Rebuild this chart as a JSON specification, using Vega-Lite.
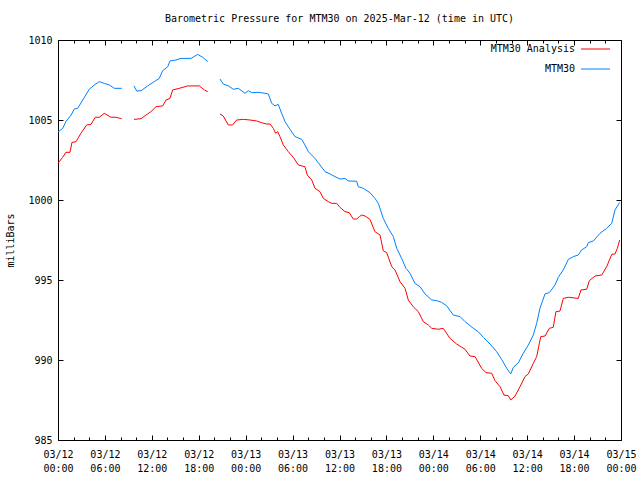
{
  "$schema": "https://vega.github.io/schema/vega-lite/v6.json",
  "width": 563,
  "height": 400,
  "autosize": "none",
  "padding": {"left": 58, "top": 40, "right": 19, "bottom": 40},
  "background": "white",
  "title": {"text": "Barometric Pressure for MTM30 on 2025-Mar-12 (time in UTC)", "font": "DejaVu Sans Mono", "fontSize": 10, "fontWeight": "normal", "color": "black", "offset": 10},
  "config": {
    "view": {"stroke": "black", "strokeWidth": 1},
    "axis": {"labelFont": "DejaVu Sans Mono", "labelFontSize": 10, "labelColor": "black", "titleFont": "DejaVu Sans Mono", "titleFontSize": 10, "titleFontWeight": "normal", "titleColor": "black", "tickColor": "black", "grid": false, "domain": false}
  },
  "data": {"values": [
      {"s": "MTM30 Analysis", "t": "2025-03-12T00:00:00Z", "g": 1, "p": 1002.3},
      {"s": "MTM30 Analysis", "t": "2025-03-12T00:36:00Z", "g": 1, "p": 1002.67},
      {"s": "MTM30 Analysis", "t": "2025-03-12T01:01:00Z", "g": 1, "p": 1002.98},
      {"s": "MTM30 Analysis", "t": "2025-03-12T01:32:00Z", "g": 1, "p": 1002.98},
      {"s": "MTM30 Analysis", "t": "2025-03-12T01:47:00Z", "g": 1, "p": 1003.6},
      {"s": "MTM30 Analysis", "t": "2025-03-12T02:18:00Z", "g": 1, "p": 1003.64},
      {"s": "MTM30 Analysis", "t": "2025-03-12T02:56:00Z", "g": 1, "p": 1004.17},
      {"s": "MTM30 Analysis", "t": "2025-03-12T03:40:00Z", "g": 1, "p": 1004.69},
      {"s": "MTM30 Analysis", "t": "2025-03-12T04:13:00Z", "g": 1, "p": 1004.73},
      {"s": "MTM30 Analysis", "t": "2025-03-12T04:46:00Z", "g": 1, "p": 1005.17},
      {"s": "MTM30 Analysis", "t": "2025-03-12T05:17:00Z", "g": 1, "p": 1005.17},
      {"s": "MTM30 Analysis", "t": "2025-03-12T05:55:00Z", "g": 1, "p": 1005.42},
      {"s": "MTM30 Analysis", "t": "2025-03-12T06:47:00Z", "g": 1, "p": 1005.17},
      {"s": "MTM30 Analysis", "t": "2025-03-12T07:25:00Z", "g": 1, "p": 1005.17},
      {"s": "MTM30 Analysis", "t": "2025-03-12T08:09:00Z", "g": 1, "p": 1005.08},
      {"s": "MTM30 Analysis", "t": "2025-03-12T09:43:00Z", "g": 2, "p": 1005.04},
      {"s": "MTM30 Analysis", "t": "2025-03-12T10:37:00Z", "g": 2, "p": 1005.08},
      {"s": "MTM30 Analysis", "t": "2025-03-12T11:15:00Z", "g": 2, "p": 1005.31},
      {"s": "MTM30 Analysis", "t": "2025-03-12T11:53:00Z", "g": 2, "p": 1005.52},
      {"s": "MTM30 Analysis", "t": "2025-03-12T12:32:00Z", "g": 2, "p": 1005.83},
      {"s": "MTM30 Analysis", "t": "2025-03-12T13:23:00Z", "g": 2, "p": 1005.88},
      {"s": "MTM30 Analysis", "t": "2025-03-12T13:49:00Z", "g": 2, "p": 1006.25},
      {"s": "MTM30 Analysis", "t": "2025-03-12T14:19:00Z", "g": 2, "p": 1006.35},
      {"s": "MTM30 Analysis", "t": "2025-03-12T14:40:00Z", "g": 2, "p": 1006.88},
      {"s": "MTM30 Analysis", "t": "2025-03-12T15:31:00Z", "g": 2, "p": 1006.98},
      {"s": "MTM30 Analysis", "t": "2025-03-12T16:35:00Z", "g": 2, "p": 1007.13},
      {"s": "MTM30 Analysis", "t": "2025-03-12T18:04:00Z", "g": 2, "p": 1007.13},
      {"s": "MTM30 Analysis", "t": "2025-03-12T18:43:00Z", "g": 2, "p": 1006.88},
      {"s": "MTM30 Analysis", "t": "2025-03-12T19:09:00Z", "g": 2, "p": 1006.77},
      {"s": "MTM30 Analysis", "t": "2025-03-12T20:43:00Z", "g": 3, "p": 1005.38},
      {"s": "MTM30 Analysis", "t": "2025-03-12T21:08:00Z", "g": 3, "p": 1005.25},
      {"s": "MTM30 Analysis", "t": "2025-03-12T21:47:00Z", "g": 3, "p": 1004.69},
      {"s": "MTM30 Analysis", "t": "2025-03-12T22:20:00Z", "g": 3, "p": 1004.69},
      {"s": "MTM30 Analysis", "t": "2025-03-12T22:51:00Z", "g": 3, "p": 1005.0},
      {"s": "MTM30 Analysis", "t": "2025-03-12T23:42:00Z", "g": 3, "p": 1005.04},
      {"s": "MTM30 Analysis", "t": "2025-03-13T00:33:00Z", "g": 3, "p": 1005.0},
      {"s": "MTM30 Analysis", "t": "2025-03-13T01:25:00Z", "g": 3, "p": 1004.94},
      {"s": "MTM30 Analysis", "t": "2025-03-13T02:03:00Z", "g": 3, "p": 1004.83},
      {"s": "MTM30 Analysis", "t": "2025-03-13T02:41:00Z", "g": 3, "p": 1004.75},
      {"s": "MTM30 Analysis", "t": "2025-03-13T03:07:00Z", "g": 3, "p": 1004.75},
      {"s": "MTM30 Analysis", "t": "2025-03-13T03:32:00Z", "g": 3, "p": 1004.48},
      {"s": "MTM30 Analysis", "t": "2025-03-13T03:50:00Z", "g": 3, "p": 1004.17},
      {"s": "MTM30 Analysis", "t": "2025-03-13T04:06:00Z", "g": 3, "p": 1004.27},
      {"s": "MTM30 Analysis", "t": "2025-03-13T04:23:00Z", "g": 3, "p": 1003.96},
      {"s": "MTM30 Analysis", "t": "2025-03-13T04:49:00Z", "g": 3, "p": 1003.44},
      {"s": "MTM30 Analysis", "t": "2025-03-13T05:27:00Z", "g": 3, "p": 1003.02},
      {"s": "MTM30 Analysis", "t": "2025-03-13T06:05:00Z", "g": 3, "p": 1002.67},
      {"s": "MTM30 Analysis", "t": "2025-03-13T06:44:00Z", "g": 3, "p": 1002.19},
      {"s": "MTM30 Analysis", "t": "2025-03-13T07:35:00Z", "g": 3, "p": 1002.08},
      {"s": "MTM30 Analysis", "t": "2025-03-13T07:53:00Z", "g": 3, "p": 1001.56},
      {"s": "MTM30 Analysis", "t": "2025-03-13T08:27:00Z", "g": 3, "p": 1001.25},
      {"s": "MTM30 Analysis", "t": "2025-03-13T08:52:00Z", "g": 3, "p": 1000.73},
      {"s": "MTM30 Analysis", "t": "2025-03-13T09:30:00Z", "g": 3, "p": 1000.52},
      {"s": "MTM30 Analysis", "t": "2025-03-13T09:56:00Z", "g": 3, "p": 1000.1},
      {"s": "MTM30 Analysis", "t": "2025-03-13T10:34:00Z", "g": 3, "p": 999.9},
      {"s": "MTM30 Analysis", "t": "2025-03-13T11:00:00Z", "g": 3, "p": 999.79},
      {"s": "MTM30 Analysis", "t": "2025-03-13T11:38:00Z", "g": 3, "p": 999.79},
      {"s": "MTM30 Analysis", "t": "2025-03-13T12:04:00Z", "g": 3, "p": 999.54},
      {"s": "MTM30 Analysis", "t": "2025-03-13T12:42:00Z", "g": 3, "p": 999.27},
      {"s": "MTM30 Analysis", "t": "2025-03-13T13:15:00Z", "g": 3, "p": 999.21},
      {"s": "MTM30 Analysis", "t": "2025-03-13T13:46:00Z", "g": 3, "p": 998.81},
      {"s": "MTM30 Analysis", "t": "2025-03-13T14:12:00Z", "g": 3, "p": 998.81},
      {"s": "MTM30 Analysis", "t": "2025-03-13T14:32:00Z", "g": 3, "p": 998.96},
      {"s": "MTM30 Analysis", "t": "2025-03-13T14:50:00Z", "g": 3, "p": 999.06},
      {"s": "MTM30 Analysis", "t": "2025-03-13T15:16:00Z", "g": 3, "p": 999.0},
      {"s": "MTM30 Analysis", "t": "2025-03-13T15:54:00Z", "g": 3, "p": 998.79},
      {"s": "MTM30 Analysis", "t": "2025-03-13T16:32:00Z", "g": 3, "p": 998.02},
      {"s": "MTM30 Analysis", "t": "2025-03-13T17:11:00Z", "g": 3, "p": 997.81},
      {"s": "MTM30 Analysis", "t": "2025-03-13T17:36:00Z", "g": 3, "p": 996.83},
      {"s": "MTM30 Analysis", "t": "2025-03-13T18:02:00Z", "g": 3, "p": 996.71},
      {"s": "MTM30 Analysis", "t": "2025-03-13T18:41:00Z", "g": 3, "p": 995.83},
      {"s": "MTM30 Analysis", "t": "2025-03-13T19:06:00Z", "g": 3, "p": 995.63},
      {"s": "MTM30 Analysis", "t": "2025-03-13T19:44:00Z", "g": 3, "p": 994.9},
      {"s": "MTM30 Analysis", "t": "2025-03-13T20:23:00Z", "g": 3, "p": 994.48},
      {"s": "MTM30 Analysis", "t": "2025-03-13T20:48:00Z", "g": 3, "p": 993.75},
      {"s": "MTM30 Analysis", "t": "2025-03-13T21:26:00Z", "g": 3, "p": 993.33},
      {"s": "MTM30 Analysis", "t": "2025-03-13T22:05:00Z", "g": 3, "p": 993.02},
      {"s": "MTM30 Analysis", "t": "2025-03-13T22:43:00Z", "g": 3, "p": 992.4},
      {"s": "MTM30 Analysis", "t": "2025-03-13T23:21:00Z", "g": 3, "p": 992.19},
      {"s": "MTM30 Analysis", "t": "2025-03-13T23:48:00Z", "g": 3, "p": 991.98},
      {"s": "MTM30 Analysis", "t": "2025-03-14T00:38:00Z", "g": 3, "p": 991.92},
      {"s": "MTM30 Analysis", "t": "2025-03-14T01:16:00Z", "g": 3, "p": 991.98},
      {"s": "MTM30 Analysis", "t": "2025-03-14T02:08:00Z", "g": 3, "p": 991.35},
      {"s": "MTM30 Analysis", "t": "2025-03-14T02:59:00Z", "g": 3, "p": 991.0},
      {"s": "MTM30 Analysis", "t": "2025-03-14T04:03:00Z", "g": 3, "p": 990.67},
      {"s": "MTM30 Analysis", "t": "2025-03-14T04:41:00Z", "g": 3, "p": 990.25},
      {"s": "MTM30 Analysis", "t": "2025-03-14T05:20:00Z", "g": 3, "p": 990.21},
      {"s": "MTM30 Analysis", "t": "2025-03-14T06:11:00Z", "g": 3, "p": 989.48},
      {"s": "MTM30 Analysis", "t": "2025-03-14T06:44:00Z", "g": 3, "p": 989.21},
      {"s": "MTM30 Analysis", "t": "2025-03-14T07:28:00Z", "g": 3, "p": 989.17},
      {"s": "MTM30 Analysis", "t": "2025-03-14T07:53:00Z", "g": 3, "p": 988.71},
      {"s": "MTM30 Analysis", "t": "2025-03-14T08:32:00Z", "g": 3, "p": 988.33},
      {"s": "MTM30 Analysis", "t": "2025-03-14T09:02:00Z", "g": 3, "p": 987.81},
      {"s": "MTM30 Analysis", "t": "2025-03-14T09:35:00Z", "g": 3, "p": 987.77},
      {"s": "MTM30 Analysis", "t": "2025-03-14T09:54:00Z", "g": 3, "p": 987.5},
      {"s": "MTM30 Analysis", "t": "2025-03-14T10:27:00Z", "g": 3, "p": 987.75},
      {"s": "MTM30 Analysis", "t": "2025-03-14T11:05:00Z", "g": 3, "p": 988.33},
      {"s": "MTM30 Analysis", "t": "2025-03-14T11:43:00Z", "g": 3, "p": 988.96},
      {"s": "MTM30 Analysis", "t": "2025-03-14T12:09:00Z", "g": 3, "p": 989.13},
      {"s": "MTM30 Analysis", "t": "2025-03-14T12:47:00Z", "g": 3, "p": 989.79},
      {"s": "MTM30 Analysis", "t": "2025-03-14T13:13:00Z", "g": 3, "p": 990.21},
      {"s": "MTM30 Analysis", "t": "2025-03-14T13:44:00Z", "g": 3, "p": 991.46},
      {"s": "MTM30 Analysis", "t": "2025-03-14T14:17:00Z", "g": 3, "p": 991.5},
      {"s": "MTM30 Analysis", "t": "2025-03-14T14:50:00Z", "g": 3, "p": 991.98},
      {"s": "MTM30 Analysis", "t": "2025-03-14T15:20:00Z", "g": 3, "p": 992.04},
      {"s": "MTM30 Analysis", "t": "2025-03-14T15:41:00Z", "g": 3, "p": 993.02},
      {"s": "MTM30 Analysis", "t": "2025-03-14T16:12:00Z", "g": 3, "p": 993.06},
      {"s": "MTM30 Analysis", "t": "2025-03-14T16:37:00Z", "g": 3, "p": 993.85},
      {"s": "MTM30 Analysis", "t": "2025-03-14T17:16:00Z", "g": 3, "p": 993.92},
      {"s": "MTM30 Analysis", "t": "2025-03-14T18:32:00Z", "g": 3, "p": 993.85},
      {"s": "MTM30 Analysis", "t": "2025-03-14T18:53:00Z", "g": 3, "p": 994.38},
      {"s": "MTM30 Analysis", "t": "2025-03-14T19:37:00Z", "g": 3, "p": 994.42},
      {"s": "MTM30 Analysis", "t": "2025-03-14T19:57:00Z", "g": 3, "p": 994.96},
      {"s": "MTM30 Analysis", "t": "2025-03-14T20:41:00Z", "g": 3, "p": 995.25},
      {"s": "MTM30 Analysis", "t": "2025-03-14T21:32:00Z", "g": 3, "p": 995.31},
      {"s": "MTM30 Analysis", "t": "2025-03-14T22:10:00Z", "g": 3, "p": 995.83},
      {"s": "MTM30 Analysis", "t": "2025-03-14T22:49:00Z", "g": 3, "p": 996.6},
      {"s": "MTM30 Analysis", "t": "2025-03-14T23:14:00Z", "g": 3, "p": 996.63},
      {"s": "MTM30 Analysis", "t": "2025-03-14T23:32:00Z", "g": 3, "p": 996.98},
      {"s": "MTM30 Analysis", "t": "2025-03-14T23:50:00Z", "g": 3, "p": 997.5},
      {"s": "MTM30", "t": "2025-03-12T00:00:00Z", "g": 1, "p": 1004.25},
      {"s": "MTM30", "t": "2025-03-12T00:36:00Z", "g": 1, "p": 1004.48},
      {"s": "MTM30", "t": "2025-03-12T01:01:00Z", "g": 1, "p": 1004.9},
      {"s": "MTM30", "t": "2025-03-12T01:40:00Z", "g": 1, "p": 1005.3},
      {"s": "MTM30", "t": "2025-03-12T02:05:00Z", "g": 1, "p": 1005.69},
      {"s": "MTM30", "t": "2025-03-12T02:31:00Z", "g": 1, "p": 1005.73},
      {"s": "MTM30", "t": "2025-03-12T03:10:00Z", "g": 1, "p": 1006.25},
      {"s": "MTM30", "t": "2025-03-12T04:00:00Z", "g": 1, "p": 1006.92},
      {"s": "MTM30", "t": "2025-03-12T04:39:00Z", "g": 1, "p": 1007.19},
      {"s": "MTM30", "t": "2025-03-12T05:17:00Z", "g": 1, "p": 1007.4},
      {"s": "MTM30", "t": "2025-03-12T05:55:00Z", "g": 1, "p": 1007.29},
      {"s": "MTM30", "t": "2025-03-12T06:34:00Z", "g": 1, "p": 1007.19},
      {"s": "MTM30", "t": "2025-03-12T07:12:00Z", "g": 1, "p": 1006.98},
      {"s": "MTM30", "t": "2025-03-12T08:09:00Z", "g": 1, "p": 1006.98},
      {"s": "MTM30", "t": "2025-03-12T09:43:00Z", "g": 2, "p": 1007.13},
      {"s": "MTM30", "t": "2025-03-12T10:04:00Z", "g": 2, "p": 1006.81},
      {"s": "MTM30", "t": "2025-03-12T10:37:00Z", "g": 2, "p": 1006.83},
      {"s": "MTM30", "t": "2025-03-12T11:28:00Z", "g": 2, "p": 1007.13},
      {"s": "MTM30", "t": "2025-03-12T12:19:00Z", "g": 2, "p": 1007.4},
      {"s": "MTM30", "t": "2025-03-12T12:57:00Z", "g": 2, "p": 1007.6},
      {"s": "MTM30", "t": "2025-03-12T13:23:00Z", "g": 2, "p": 1008.08},
      {"s": "MTM30", "t": "2025-03-12T14:02:00Z", "g": 2, "p": 1008.33},
      {"s": "MTM30", "t": "2025-03-12T14:19:00Z", "g": 2, "p": 1008.69},
      {"s": "MTM30", "t": "2025-03-12T15:05:00Z", "g": 2, "p": 1008.75},
      {"s": "MTM30", "t": "2025-03-12T15:44:00Z", "g": 2, "p": 1008.85},
      {"s": "MTM30", "t": "2025-03-12T17:01:00Z", "g": 2, "p": 1008.85},
      {"s": "MTM30", "t": "2025-03-12T17:52:00Z", "g": 2, "p": 1009.1},
      {"s": "MTM30", "t": "2025-03-12T18:30:00Z", "g": 2, "p": 1008.92},
      {"s": "MTM30", "t": "2025-03-12T19:09:00Z", "g": 2, "p": 1008.65},
      {"s": "MTM30", "t": "2025-03-12T20:43:00Z", "g": 3, "p": 1007.56},
      {"s": "MTM30", "t": "2025-03-12T21:08:00Z", "g": 3, "p": 1007.25},
      {"s": "MTM30", "t": "2025-03-12T21:47:00Z", "g": 3, "p": 1007.13},
      {"s": "MTM30", "t": "2025-03-12T22:25:00Z", "g": 3, "p": 1006.92},
      {"s": "MTM30", "t": "2025-03-12T23:04:00Z", "g": 3, "p": 1006.98},
      {"s": "MTM30", "t": "2025-03-12T23:55:00Z", "g": 3, "p": 1006.67},
      {"s": "MTM30", "t": "2025-03-13T00:20:00Z", "g": 3, "p": 1006.83},
      {"s": "MTM30", "t": "2025-03-13T00:46:00Z", "g": 3, "p": 1006.71},
      {"s": "MTM30", "t": "2025-03-13T01:37:00Z", "g": 3, "p": 1006.73},
      {"s": "MTM30", "t": "2025-03-13T02:28:00Z", "g": 3, "p": 1006.67},
      {"s": "MTM30", "t": "2025-03-13T02:54:00Z", "g": 3, "p": 1006.63},
      {"s": "MTM30", "t": "2025-03-13T03:20:00Z", "g": 3, "p": 1006.04},
      {"s": "MTM30", "t": "2025-03-13T03:45:00Z", "g": 3, "p": 1005.88},
      {"s": "MTM30", "t": "2025-03-13T04:10:00Z", "g": 3, "p": 1005.98},
      {"s": "MTM30", "t": "2025-03-13T04:36:00Z", "g": 3, "p": 1005.42},
      {"s": "MTM30", "t": "2025-03-13T05:02:00Z", "g": 3, "p": 1004.9},
      {"s": "MTM30", "t": "2025-03-13T05:40:00Z", "g": 3, "p": 1004.42},
      {"s": "MTM30", "t": "2025-03-13T06:19:00Z", "g": 3, "p": 1003.96},
      {"s": "MTM30", "t": "2025-03-13T07:10:00Z", "g": 3, "p": 1003.79},
      {"s": "MTM30", "t": "2025-03-13T07:35:00Z", "g": 3, "p": 1003.44},
      {"s": "MTM30", "t": "2025-03-13T08:01:00Z", "g": 3, "p": 1003.02},
      {"s": "MTM30", "t": "2025-03-13T08:52:00Z", "g": 3, "p": 1002.6},
      {"s": "MTM30", "t": "2025-03-13T09:30:00Z", "g": 3, "p": 1002.19},
      {"s": "MTM30", "t": "2025-03-13T10:09:00Z", "g": 3, "p": 1001.77},
      {"s": "MTM30", "t": "2025-03-13T10:47:00Z", "g": 3, "p": 1001.63},
      {"s": "MTM30", "t": "2025-03-13T11:25:00Z", "g": 3, "p": 1001.46},
      {"s": "MTM30", "t": "2025-03-13T12:04:00Z", "g": 3, "p": 1001.31},
      {"s": "MTM30", "t": "2025-03-13T12:42:00Z", "g": 3, "p": 1001.35},
      {"s": "MTM30", "t": "2025-03-13T13:08:00Z", "g": 3, "p": 1001.19},
      {"s": "MTM30", "t": "2025-03-13T14:12:00Z", "g": 3, "p": 1001.17},
      {"s": "MTM30", "t": "2025-03-13T14:24:00Z", "g": 3, "p": 1000.83},
      {"s": "MTM30", "t": "2025-03-13T15:03:00Z", "g": 3, "p": 1000.73},
      {"s": "MTM30", "t": "2025-03-13T15:54:00Z", "g": 3, "p": 1000.46},
      {"s": "MTM30", "t": "2025-03-13T16:32:00Z", "g": 3, "p": 1000.1},
      {"s": "MTM30", "t": "2025-03-13T16:58:00Z", "g": 3, "p": 999.79},
      {"s": "MTM30", "t": "2025-03-13T17:36:00Z", "g": 3, "p": 998.85},
      {"s": "MTM30", "t": "2025-03-13T18:14:00Z", "g": 3, "p": 998.23},
      {"s": "MTM30", "t": "2025-03-13T18:53:00Z", "g": 3, "p": 997.71},
      {"s": "MTM30", "t": "2025-03-13T19:19:00Z", "g": 3, "p": 996.98},
      {"s": "MTM30", "t": "2025-03-13T19:57:00Z", "g": 3, "p": 996.35},
      {"s": "MTM30", "t": "2025-03-13T20:30:00Z", "g": 3, "p": 995.73},
      {"s": "MTM30", "t": "2025-03-13T21:01:00Z", "g": 3, "p": 995.42},
      {"s": "MTM30", "t": "2025-03-13T21:39:00Z", "g": 3, "p": 994.79},
      {"s": "MTM30", "t": "2025-03-13T22:18:00Z", "g": 3, "p": 994.58},
      {"s": "MTM30", "t": "2025-03-13T22:56:00Z", "g": 3, "p": 994.13},
      {"s": "MTM30", "t": "2025-03-13T23:48:00Z", "g": 3, "p": 993.75},
      {"s": "MTM30", "t": "2025-03-14T00:26:00Z", "g": 3, "p": 993.71},
      {"s": "MTM30", "t": "2025-03-14T01:04:00Z", "g": 3, "p": 993.6},
      {"s": "MTM30", "t": "2025-03-14T01:43:00Z", "g": 3, "p": 993.38},
      {"s": "MTM30", "t": "2025-03-14T02:33:00Z", "g": 3, "p": 992.81},
      {"s": "MTM30", "t": "2025-03-14T03:25:00Z", "g": 3, "p": 992.71},
      {"s": "MTM30", "t": "2025-03-14T04:03:00Z", "g": 3, "p": 992.4},
      {"s": "MTM30", "t": "2025-03-14T05:07:00Z", "g": 3, "p": 991.98},
      {"s": "MTM30", "t": "2025-03-14T05:45:00Z", "g": 3, "p": 991.77},
      {"s": "MTM30", "t": "2025-03-14T06:23:00Z", "g": 3, "p": 991.42},
      {"s": "MTM30", "t": "2025-03-14T07:15:00Z", "g": 3, "p": 991.0},
      {"s": "MTM30", "t": "2025-03-14T08:06:00Z", "g": 3, "p": 990.52},
      {"s": "MTM30", "t": "2025-03-14T08:44:00Z", "g": 3, "p": 990.04},
      {"s": "MTM30", "t": "2025-03-14T09:23:00Z", "g": 3, "p": 989.48},
      {"s": "MTM30", "t": "2025-03-14T09:54:00Z", "g": 3, "p": 989.13},
      {"s": "MTM30", "t": "2025-03-14T10:14:00Z", "g": 3, "p": 989.54},
      {"s": "MTM30", "t": "2025-03-14T10:52:00Z", "g": 3, "p": 989.83},
      {"s": "MTM30", "t": "2025-03-14T11:30:00Z", "g": 3, "p": 990.42},
      {"s": "MTM30", "t": "2025-03-14T12:09:00Z", "g": 3, "p": 990.94},
      {"s": "MTM30", "t": "2025-03-14T12:47:00Z", "g": 3, "p": 991.56},
      {"s": "MTM30", "t": "2025-03-14T13:13:00Z", "g": 3, "p": 992.29},
      {"s": "MTM30", "t": "2025-03-14T13:38:00Z", "g": 3, "p": 993.23},
      {"s": "MTM30", "t": "2025-03-14T14:17:00Z", "g": 3, "p": 994.13},
      {"s": "MTM30", "t": "2025-03-14T14:50:00Z", "g": 3, "p": 994.21},
      {"s": "MTM30", "t": "2025-03-14T15:34:00Z", "g": 3, "p": 994.69},
      {"s": "MTM30", "t": "2025-03-14T15:59:00Z", "g": 3, "p": 995.17},
      {"s": "MTM30", "t": "2025-03-14T16:37:00Z", "g": 3, "p": 995.63},
      {"s": "MTM30", "t": "2025-03-14T17:16:00Z", "g": 3, "p": 996.29},
      {"s": "MTM30", "t": "2025-03-14T17:54:00Z", "g": 3, "p": 996.46},
      {"s": "MTM30", "t": "2025-03-14T18:32:00Z", "g": 3, "p": 996.56},
      {"s": "MTM30", "t": "2025-03-14T18:58:00Z", "g": 3, "p": 996.88},
      {"s": "MTM30", "t": "2025-03-14T19:37:00Z", "g": 3, "p": 997.08},
      {"s": "MTM30", "t": "2025-03-14T19:49:00Z", "g": 3, "p": 997.33},
      {"s": "MTM30", "t": "2025-03-14T20:28:00Z", "g": 3, "p": 997.44},
      {"s": "MTM30", "t": "2025-03-14T21:19:00Z", "g": 3, "p": 997.92},
      {"s": "MTM30", "t": "2025-03-14T22:10:00Z", "g": 3, "p": 998.23},
      {"s": "MTM30", "t": "2025-03-14T22:49:00Z", "g": 3, "p": 998.54},
      {"s": "MTM30", "t": "2025-03-14T23:14:00Z", "g": 3, "p": 999.38},
      {"s": "MTM30", "t": "2025-03-14T23:50:00Z", "g": 3, "p": 999.85}
  ]},
  "layer": [
    {
      "transform": [{"filter": "datum.s === 'MTM30 Analysis'"}],
      "mark": {"type": "line", "strokeWidth": 1},
      "encoding": {
        "x": {"field": "t", "type": "temporal",
          "scale": {"type": "utc", "domain": [1741737600000, 1741996800000]},
          "axis": {"orient": "bottom", "title": null,
            "values": [1741737600000, 1741744800000, 1741752000000, 1741759200000, 1741766400000, 1741773600000, 1741780800000, 1741788000000, 1741795200000, 1741802400000, 1741809600000, 1741816800000, 1741824000000, 1741831200000, 1741838400000, 1741845600000, 1741852800000, 1741860000000, 1741867200000, 1741874400000, 1741881600000, 1741888800000, 1741896000000, 1741903200000, 1741910400000, 1741917600000, 1741924800000, 1741932000000, 1741939200000, 1741946400000, 1741953600000, 1741960800000, 1741968000000, 1741975200000, 1741982400000, 1741989600000, 1741996800000],
            "labelOverlap": false,
            "labelExpr": "utchours(datum.value) % 6 === 0 ? [utcFormat(datum.value, '%m/%d'), utcFormat(datum.value, '%H:%M')] : ''",
            "tickSize": {"condition": {"test": "utchours(datum.value) % 6 === 0", "value": -5}, "value": -3},
            "labelPadding": 14, "labelLineHeight": 14, "labelFlush": false}},
        "y": {"field": "p", "type": "quantitative",
          "scale": {"domain": [985, 1010], "zero": false, "nice": false},
          "axis": {"orient": "left", "title": "milliBars", "values": [985, 990, 995, 1000, 1005, 1010], "format": "d", "tickSize": -5, "labelPadding": 11, "titlePadding": 12}},
        "color": {"field": "s", "type": "nominal",
          "scale": {"domain": ["MTM30 Analysis", "MTM30"], "range": ["#ff0000", "#0080ff"]},
          "legend": {"title": null, "orient": "none", "legendX": 522.5, "legendY": -6, "padding": 0, "symbolType": "stroke", "symbolSize": 841, "symbolStrokeWidth": 1, "labelFont": "DejaVu Sans Mono", "labelFontSize": 10, "labelColor": "black", "labelAlign": "right", "labelOffset": -35.5, "rowPadding": -6.5}},
        "detail": {"field": "g", "type": "nominal"}
      }
    },
    {
      "transform": [{"filter": "datum.s === 'MTM30'"}],
      "mark": {"type": "line", "strokeWidth": 1},
      "encoding": {
        "x": {"field": "t", "type": "temporal",
          "scale": {"type": "utc", "domain": [1741737600000, 1741996800000]},
          "axis": {"orient": "top", "title": null, "labels": false,
            "values": [1741737600000, 1741744800000, 1741752000000, 1741759200000, 1741766400000, 1741773600000, 1741780800000, 1741788000000, 1741795200000, 1741802400000, 1741809600000, 1741816800000, 1741824000000, 1741831200000, 1741838400000, 1741845600000, 1741852800000, 1741860000000, 1741867200000, 1741874400000, 1741881600000, 1741888800000, 1741896000000, 1741903200000, 1741910400000, 1741917600000, 1741924800000, 1741932000000, 1741939200000, 1741946400000, 1741953600000, 1741960800000, 1741968000000, 1741975200000, 1741982400000, 1741989600000, 1741996800000],
            "tickSize": {"condition": {"test": "utchours(datum.value) % 6 === 0", "value": -5}, "value": -3}}},
        "y": {"field": "p", "type": "quantitative",
          "scale": {"domain": [985, 1010], "zero": false, "nice": false},
          "axis": {"orient": "right", "title": null, "labels": false, "values": [985, 990, 995, 1000, 1005, 1010], "tickSize": -5}},
        "color": {"field": "s", "type": "nominal"},
        "detail": {"field": "g", "type": "nominal"}
      }
    }
  ],
  "resolve": {"axis": {"x": "independent", "y": "independent"}}
}
